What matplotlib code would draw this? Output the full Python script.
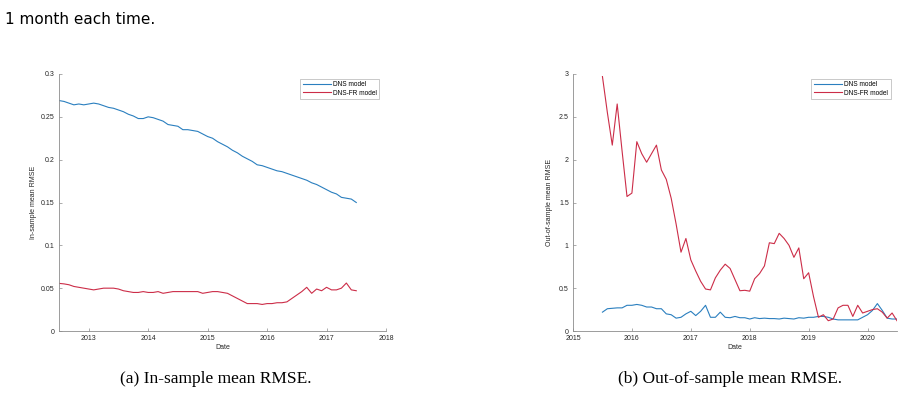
import numpy as np
import matplotlib
matplotlib.use("Agg")
import matplotlib.pyplot as plt

# ---------------- data ----------------
in_start = 2012.5
dns_in = [0.269, 0.268, 0.266, 0.264, 0.265, 0.264, 0.265, 0.266, 0.265, 0.263,
          0.261, 0.260, 0.258, 0.256, 0.253, 0.251, 0.248, 0.248, 0.250, 0.249,
          0.247, 0.245, 0.241, 0.240, 0.239, 0.235, 0.235, 0.234, 0.233, 0.230,
          0.227, 0.225, 0.221, 0.218, 0.215, 0.211, 0.208, 0.204, 0.201, 0.198,
          0.194, 0.193, 0.191, 0.189, 0.187, 0.186, 0.184, 0.182, 0.180, 0.178,
          0.176, 0.173, 0.171, 0.168, 0.165, 0.162, 0.160, 0.156, 0.155, 0.154,
          0.150]
dnsfr_in = [0.0556, 0.055, 0.054, 0.052, 0.051, 0.050, 0.049, 0.048, 0.049, 0.050,
            0.050, 0.050, 0.049, 0.047, 0.046, 0.045, 0.045, 0.046, 0.045, 0.045,
            0.046, 0.044, 0.045, 0.046, 0.046, 0.046, 0.046, 0.046, 0.046, 0.044,
            0.045, 0.046, 0.046, 0.045, 0.044, 0.041, 0.038, 0.035, 0.032, 0.032,
            0.032, 0.031, 0.032, 0.032, 0.033, 0.033, 0.034, 0.038, 0.042, 0.046,
            0.051, 0.044, 0.049, 0.047, 0.051, 0.048, 0.048, 0.050, 0.056, 0.048,
            0.047]

out_start = 2015.5
dns_out = [0.22, 0.26, 0.265, 0.27, 0.27, 0.30, 0.30, 0.31, 0.30, 0.28,
           0.28, 0.26, 0.26, 0.20, 0.19, 0.15, 0.16, 0.20, 0.23, 0.18,
           0.23, 0.30, 0.16, 0.16, 0.22, 0.16, 0.155, 0.17, 0.155, 0.155,
           0.14, 0.155, 0.145, 0.15, 0.145, 0.145, 0.14, 0.15, 0.145, 0.14,
           0.155, 0.15, 0.16, 0.16, 0.17, 0.17, 0.16, 0.14, 0.13, 0.13,
           0.13, 0.13, 0.13, 0.16, 0.19, 0.24, 0.32, 0.24, 0.15, 0.14,
           0.14]
dnsfr_out = [2.97, 2.55, 2.17, 2.65, 2.10, 1.57, 1.61, 2.21, 2.07, 1.97,
             2.07, 2.17, 1.88, 1.77, 1.55, 1.25, 0.92, 1.08, 0.83, 0.70,
             0.58, 0.49, 0.48, 0.62, 0.71, 0.78, 0.73, 0.60, 0.47, 0.475,
             0.465, 0.61, 0.67, 0.76, 1.03, 1.02, 1.14, 1.08, 1.00, 0.86,
             0.97, 0.61, 0.68, 0.40, 0.16, 0.19, 0.12, 0.14, 0.27, 0.30,
             0.30, 0.17, 0.30, 0.21, 0.23, 0.25, 0.26, 0.22, 0.15, 0.21,
             0.12]

series_labels = ["DNS model", "DNS-FR model"]
left_xticks = [2013, 2014, 2015, 2016, 2017, 2018]
left_yticks = [0, 0.05, 0.1, 0.15, 0.2, 0.25, 0.3]
left_yticklabels = ["0", "0.05", "0.1", "0.15", "0.2", "0.25", "0.3"]
right_xticks = [2015, 2016, 2017, 2018, 2019, 2020]
right_yticks = [0, 0.5, 1, 1.5, 2, 2.5, 3]
right_yticklabels = ["0", "0.5", "1", "1.5", "2", "2.5", "3"]

BLUE = "#2a7fbf"
RED = "#cc2d48"
AX = "#8c8c8c"
TXT = "#262626"

plt.rcParams["font.family"] = ["Liberation Sans", "DejaVu Sans"]

fig = plt.figure(figsize=(9.06, 4.03), dpi=100)

def style(ax):
    for s in ["top", "right"]:
        ax.spines[s].set_visible(False)
    for s in ["left", "bottom"]:
        ax.spines[s].set_color(AX)
        ax.spines[s].set_linewidth(0.6)
    ax.tick_params(direction="in", length=2.5, width=0.5, color=AX,
                   labelsize=5, labelcolor=TXT, pad=3)

def legend(ax, anchor):
    leg = ax.legend(loc="upper right", bbox_to_anchor=anchor, fontsize=4.7,
                    frameon=True, fancybox=False, edgecolor="#a0a0a0",
                    handlelength=4.3, handletextpad=0.4, borderpad=0.35,
                    labelspacing=0.2, borderaxespad=0)
    leg.get_frame().set_linewidth(0.5)
    return leg

# left axes
axL = fig.add_axes([59 / 906, 1 - 331 / 403, 327 / 906, 257 / 403])
xL = in_start + np.arange(len(dns_in)) / 12
axL.plot(xL, dns_in, color=BLUE, lw=0.8, label=series_labels[0])
axL.plot(xL, dnsfr_in, color=RED, lw=0.8, label=series_labels[1])
axL.set_xlim(2012.5, 2018)
axL.set_ylim(0, 0.3)
axL.set_xticks(left_xticks)
axL.set_yticks(left_yticks)
axL.set_yticklabels(left_yticklabels)
axL.set_xlabel("Date", fontsize=5, color=TXT, labelpad=1)
axL.set_ylabel("In-sample mean RMSE", fontsize=5, color=TXT, labelpad=3)
style(axL)
legend(axL, (0.98, 0.98))

# right axes
axR = fig.add_axes([573 / 906, 1 - 331 / 403, 324 / 906, 257 / 403])
xR = out_start + np.arange(len(dns_out)) / 12
axR.plot(xR, dns_out, color=BLUE, lw=0.8, label=series_labels[0])
axR.plot(xR, dnsfr_out, color=RED, lw=0.8, label=series_labels[1])
axR.set_xlim(2015, 2020.5)
axR.set_ylim(0, 3)
axR.set_xticks(right_xticks)
axR.set_yticks(right_yticks)
axR.set_yticklabels(right_yticklabels)
axR.set_xlabel("Date", fontsize=5, color=TXT, labelpad=1)
axR.set_ylabel("Out-of-sample mean RMSE", fontsize=5, color=TXT, labelpad=4)
style(axR)
legend(axR, (0.98, 0.98))

# captions and text
fig.text(216 / 906, 1 - 379 / 403, "(a) In-sample mean RMSE.", ha="center",
         va="center", fontsize=12.5, family="Liberation Serif", color="black")
fig.text(730 / 906, 1 - 379 / 403, "(b) Out-of-sample mean RMSE.", ha="center",
         va="center", fontsize=12.5, family="Liberation Serif", color="black")
fig.text(5 / 906, 1 - 20 / 403, "1 month each time.", ha="left", va="center",
         fontsize=11, family="DejaVu Sans", color="black")

fig.savefig("out.png", dpi=100)
